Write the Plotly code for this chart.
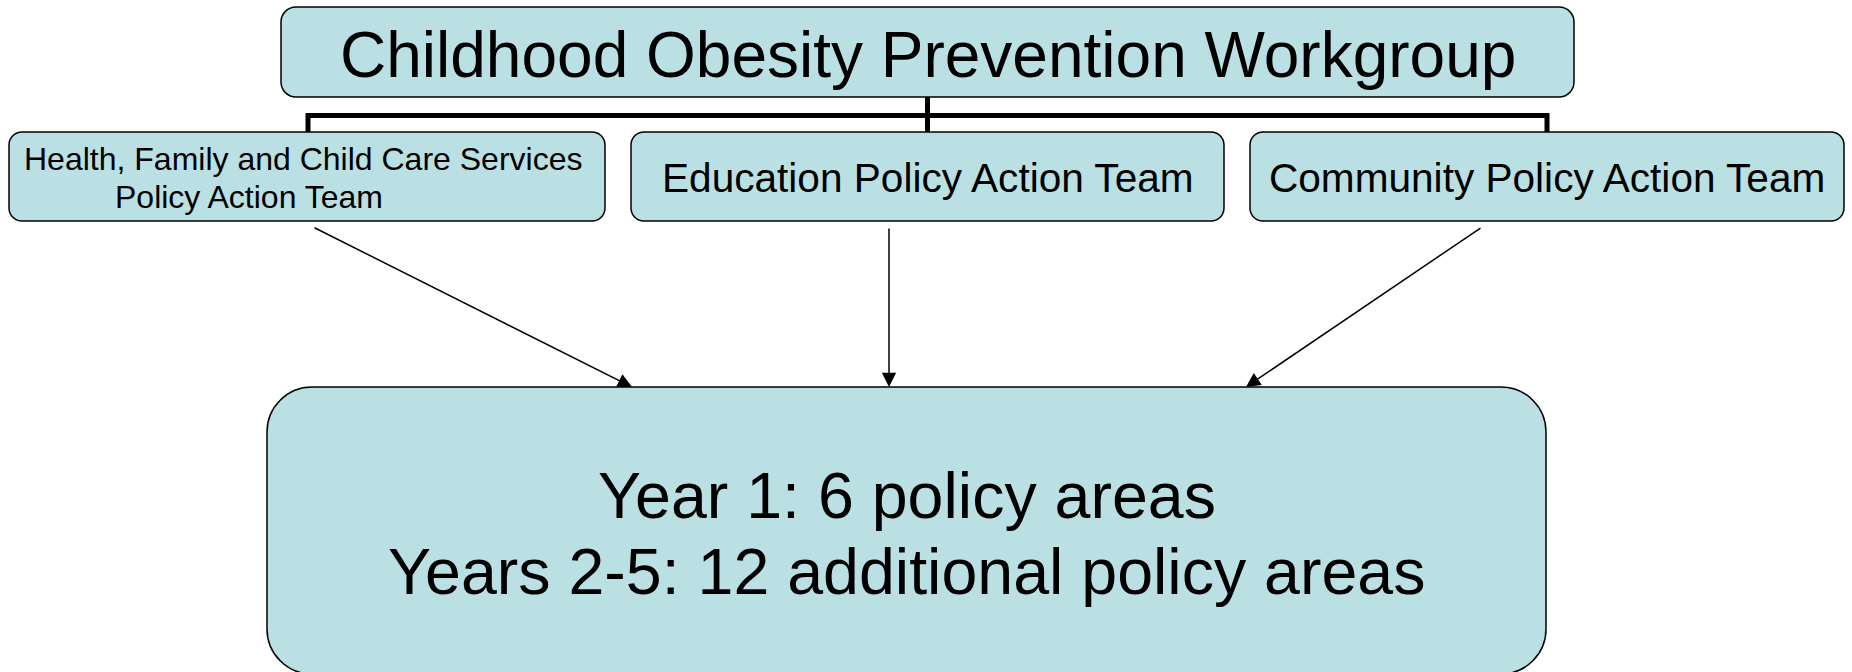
import plotly.graph_objects as go

# ---- content ----
title_label = "Childhood Obesity Prevention Workgroup"
team_labels = ["Health, Family and Child Care Services", "Education Policy Action Team", "Community Policy Action Team"]
team_label_line2 = "Policy Action Team"
outcome_lines = ["Year 1: 6 policy areas", "Years 2-5: 12 additional policy areas"]

# ---- geometry (pixel canvas) ----
W, H = 1852, 672
FILL = "#BBE0E3"
FONT = "Liberation Sans, Arial, sans-serif"

top_box = (281, 7, 1574, 97, 15)
team_boxes = [(9, 132, 605, 221, 13), (631, 132, 1224, 221, 13), (1250, 132, 1844, 221, 13)]
bottom_box = (267, 387, 1546, 674, 45)


def rrect(x0, y0, x1, y1, r):
    k = 0.5523 * r
    return (f"M{x0+r},{y0} L{x1-r},{y0} C{x1-r+k},{y0} {x1},{y0+r-k} {x1},{y0+r} "
            f"L{x1},{y1-r} C{x1},{y1-r+k} {x1-r+k},{y1} {x1-r},{y1} "
            f"L{x0+r},{y1} C{x0+r-k},{y1} {x0},{y1-r+k} {x0},{y1-r} "
            f"L{x0},{y0+r} C{x0},{y0+r-k} {x0+r-k},{y0} {x0+r},{y0} Z")


fig = go.Figure()
shapes = []
for b in [top_box] + team_boxes + [bottom_box]:
    shapes.append(dict(type="path", path=rrect(*b), xref="x", yref="y",
                       fillcolor=FILL, line=dict(color="black", width=1.5), layer="below"))

# org-chart connector
shapes.append(dict(type="path", xref="x", yref="y",
                   path="M308,132 L308,115.5 L1547,115.5 L1547,132 M927.5,97 L927.5,132",
                   line=dict(color="black", width=5)))

annotations = []
# title
annotations.append(dict(x=927.5, y=55, text=title_label, showarrow=False, xref="x", yref="y",
                        xanchor="center", yanchor="middle", font=dict(family=FONT, size=64, color="black")))
# team labels
annotations.append(dict(x=22, y=159, text=team_labels[0], showarrow=False, xref="x", yref="y",
                        xanchor="left", yanchor="middle", font=dict(family=FONT, size=32, color="black")))
annotations.append(dict(x=113, y=197, text=team_label_line2, showarrow=False, xref="x", yref="y",
                        xanchor="left", yanchor="middle", font=dict(family=FONT, size=32, color="black")))
for b, lab in zip(team_boxes[1:], team_labels[1:]):
    annotations.append(dict(x=(b[0] + b[2]) / 2, y=177.5, text=lab, showarrow=False, xref="x", yref="y",
                            xanchor="center", yanchor="middle", font=dict(family=FONT, size=40.6, color="black")))
# outcome text
for yy, line in zip([496, 572], outcome_lines):
    annotations.append(dict(x=906.5, y=yy, text=line, showarrow=False, xref="x", yref="y",
                            xanchor="center", yanchor="middle", font=dict(family=FONT, size=64.5, color="black")))

# arrows from teams to outcome box
arrow_starts = [(313, 227), (889, 227), (1482, 227)]
arrow_ends = [(632, 387), (889, 387), (1246, 387)]
for (sx, sy), (ex, ey) in zip(arrow_starts, arrow_ends):
    annotations.append(dict(x=ex, y=ey, ax=sx, ay=sy, xref="x", yref="y", axref="x", ayref="y",
                            text="", showarrow=True, arrowhead=2, arrowsize=1.9, arrowwidth=1.5,
                            arrowcolor="black", standoff=0))

fig.update_layout(
    width=W, height=H, margin=dict(l=0, r=0, t=0, b=0),
    paper_bgcolor="white", plot_bgcolor="white",
    xaxis=dict(range=[0, W], visible=False, showgrid=False, zeroline=False),
    yaxis=dict(range=[H, 0], visible=False, showgrid=False, zeroline=False),
    shapes=shapes, annotations=annotations, showlegend=False,
)

fig.write_html("out.html", config={"displayModeBar": False},
               post_script="document.body.style.margin='0px';document.body.style.overflow='hidden';")
